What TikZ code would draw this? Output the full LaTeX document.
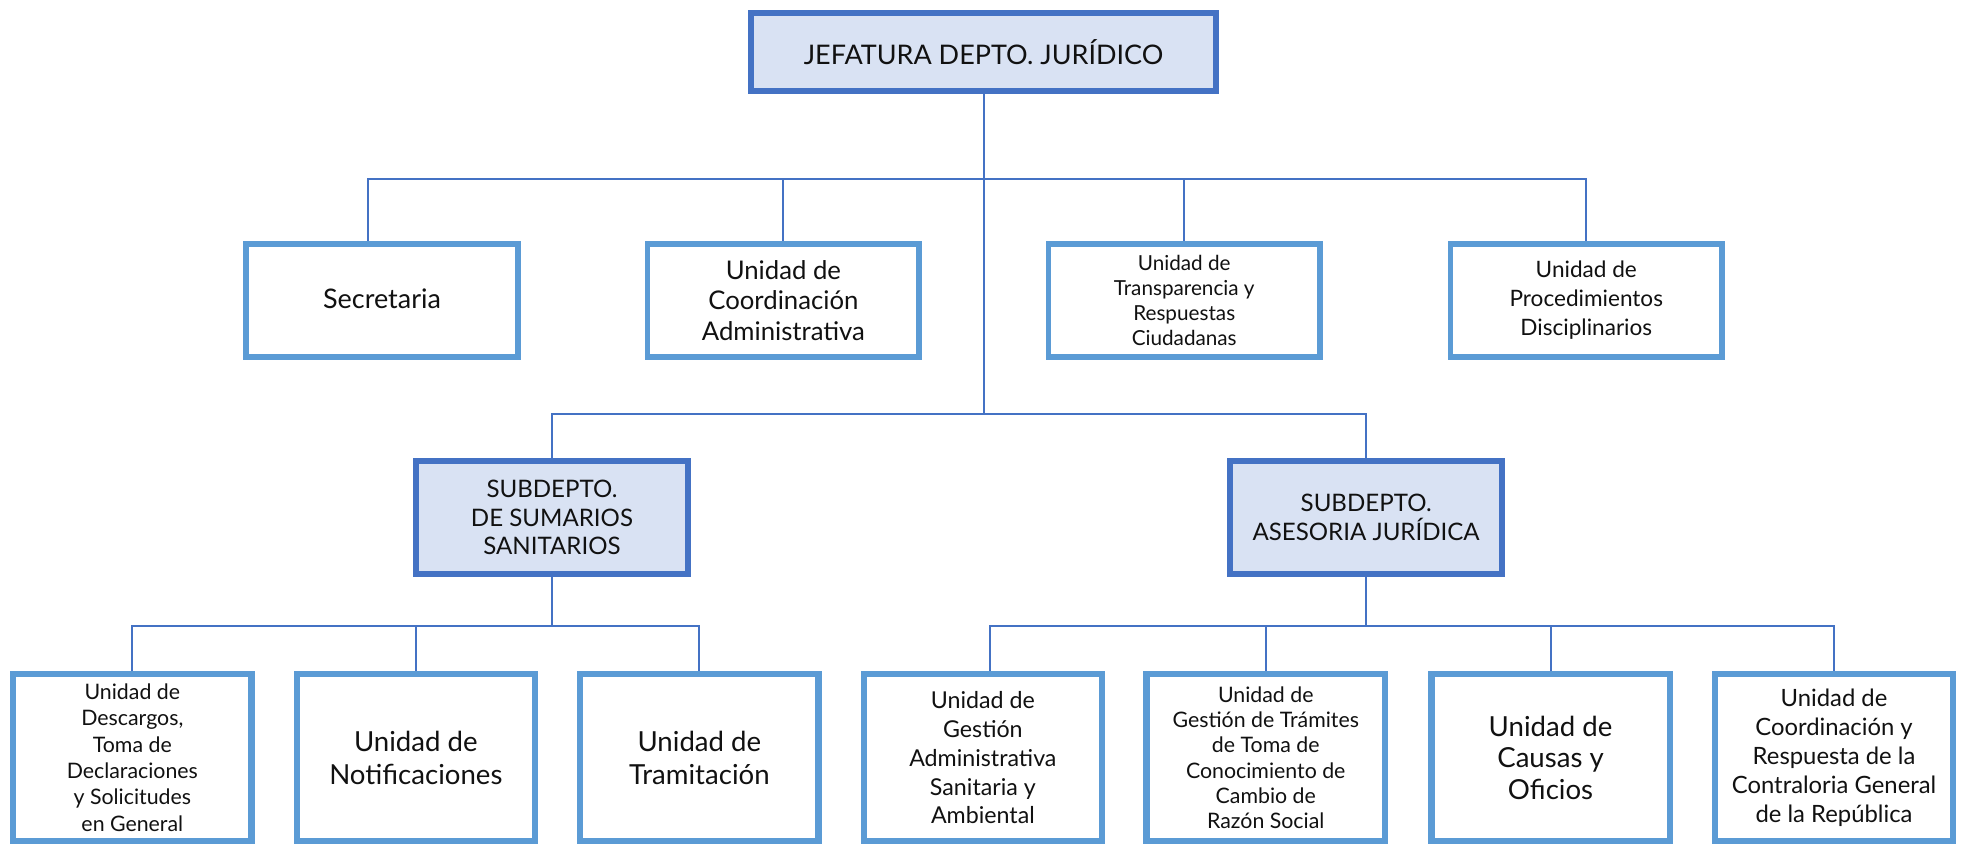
\documentclass[tikz,border=0pt]{standalone}
\usepackage{fontspec}
\setmainfont{Lato}
\usetikzlibrary{backgrounds}
\definecolor{dblue}{HTML}{4472C4}
\definecolor{lblue}{HTML}{5B9BD5}
\definecolor{fillb}{HTML}{D9E2F3}
\definecolor{txt}{HTML}{111111}
\tikzset{
  head/.style={draw=dblue, fill=fillb, line width=5pt, inner sep=0pt, align=center, text=txt},
  unitbox/.style={draw=lblue, fill=white, line width=5pt, inner sep=0pt, align=center, text=txt},
  rowone/.style={unitbox, minimum width=216.5pt, minimum height=90.5pt, line width=4.5pt},
  rowthree/.style={unitbox, minimum width=190pt, minimum height=133pt},
  conn/.style={draw=dblue, line width=1.6pt}
}
\begin{document}
\begin{tikzpicture}[x=1pt,y=-1pt]
\useasboundingbox (0,0) rectangle (1568,674);
% top
\node[head, minimum width=371pt, minimum height=62pt, font=\fontsize{21.5}{24}\selectfont] (top) at (784,41.5) {JEFATURA DEPTO. JURÍDICO};
% row 1
\node[rowone, font=\fontsize{21.5}{23}\selectfont] (sec) at (304.5,239.5) {\raisebox{3pt}{Secretaria}};
\node[rowone, font=\fontsize{20.5}{24.5}\selectfont] (coord) at (624.5,239.5) {Unidad de\\Coordinación\\Administrativa};
\node[rowone, font=\fontsize{16.5}{20}\selectfont] (transp) at (944,239.5) {Unidad de\\Transparencia y\\Respuestas\\Ciudadanas};
\node[rowone, font=\fontsize{18}{23}\selectfont] (proc) at (1264.5,239.5) {Unidad de\\Procedimientos\\Disciplinarios};
% subdeptos
\node[head, minimum width=217pt, minimum height=90pt, font=\fontsize{19.2}{23}\selectfont] (sum) at (440,412.5) {SUBDEPTO.\\DE SUMARIOS\\SANITARIOS};
\node[head, minimum width=217pt, minimum height=90pt, font=\fontsize{19.2}{23}\selectfont] (ase) at (1089,412.5) {SUBDEPTO.\\ASESORIA JURÍDICA};
% row 3
\node[rowthree, font=\fontsize{17}{21}\selectfont] (desc) at (105.5,604) {Unidad de\\Descargos,\\Toma de\\Declaraciones\\y Solicitudes\\en General};
\node[rowthree, font=\fontsize{22}{26}\selectfont] (notif) at (331.5,604) {Unidad de\\Notificaciones};
\node[rowthree, font=\fontsize{22}{26}\selectfont] (tram) at (557.5,604) {Unidad de\\Tramitación};
\node[rowthree, font=\fontsize{18.5}{23}\selectfont] (gest) at (783.5,604) {Unidad de\\Gestión\\Administrativa\\Sanitaria y\\Ambiental};
\node[rowthree, font=\fontsize{17}{20.2}\selectfont] (tram2) at (1009,604) {Unidad de\\Gestión de Trámites\\de Toma de\\Conocimiento de\\Cambio de\\Razón Social};
\node[rowthree, font=\fontsize{22}{25}\selectfont] (causas) at (1236,604) {Unidad de\\Causas y\\Oficios};
\node[rowthree, font=\fontsize{19}{23}\selectfont] (contr) at (1462,604) {Unidad de\\Coordinación y\\Respuesta de la\\Contraloria General\\de la República};
% connectors
\coordinate (b1) at (784,143);
\coordinate (b2) at (784,330);
\coordinate (b3) at (440,499);
\coordinate (b4) at (1089,499);
\begin{scope}[on background layer]
\draw[conn] (top.south) -- (b2);
\draw[conn] ([xshift=-11.5pt]sec.north) |- (b1) -| (proc.north);
\draw[conn] (coord.north) -- (coord.north |- b1);
\draw[conn] (transp.north) -- (transp.north |- b1);
\draw[conn] (sum.north) |- (b2) -| (ase.north);
\draw[conn] (sum.south) -- (b3);
\draw[conn] (desc.north) |- (b3) -| (tram.north);
\draw[conn] (notif.north) -- (notif.north |- b3);
\draw[conn] (ase.south) -- (b4);
\draw[conn] ([xshift=6pt]gest.north) |- (b4) -| (contr.north);
\draw[conn] (tram2.north) -- (tram2.north |- b4);
\draw[conn] (causas.north) -- (causas.north |- b4);
\end{scope}
\end{tikzpicture}
\end{document}
